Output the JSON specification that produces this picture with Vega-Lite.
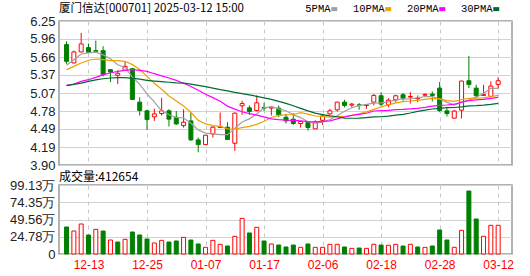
{
  "$schema": "https://vega.github.io/schema/vega-lite/v6.json",
  "padding": {"left": 8, "top": 2, "right": 10, "bottom": 2},
  "autosize": {"type": "pad"},
  "bounds": "flush",
  "spacing": 20,
  "background": "white",
  "config": {
    "font": "Liberation Sans",
    "view": {"stroke": "#999999", "strokeWidth": 1.5},
    "axis": {"labelFont": "Liberation Sans", "labelFontSize": 13, "labelColor": "#222222", "gridColor": "#d2d2d2", "gridWidth": 1, "domain": false, "ticks": false, "labelPadding": 4, "labelOverlap": false},
    "legend": {"labelFont": "Liberation Mono", "labelFontSize": 10.5, "labelColor": "#000000"}
  },
  "datasets": {
    "k": [
      {"i":1,"d":"12-10","o":5.865,"h":5.92,"l":5.55,"c":5.592,"pre":5.75,"v":388000,"m5":5.527,"m10":5.456,"m20":5.199,"m30":5.194},
      {"i":2,"d":"12-11","o":5.565,"h":5.767,"l":5.56,"c":5.745,"pre":5.592,"v":330000,"m5":5.619,"m10":5.51,"m20":5.221,"m30":5.215},
      {"i":3,"d":"12-12","o":5.745,"h":6.056,"l":5.74,"c":5.876,"pre":5.745,"v":431000,"m5":5.712,"m10":5.565,"m20":5.265,"m30":5.237},
      {"i":4,"d":"12-13","o":5.816,"h":5.882,"l":5.729,"c":5.74,"pre":5.876,"v":273000,"m5":5.729,"m10":5.609,"m20":5.292,"m30":5.265},
      {"i":5,"d":"12-16","o":5.767,"h":5.93,"l":5.75,"c":5.756,"pre":5.74,"v":354000,"m5":5.742,"m10":5.63,"m20":5.33,"m30":5.29},
      {"i":6,"d":"12-17","o":5.767,"h":5.838,"l":5.347,"c":5.374,"pre":5.756,"v":330000,"m5":5.698,"m10":5.619,"m20":5.374,"m30":5.308},
      {"i":7,"d":"12-18","o":5.456,"h":5.456,"l":5.254,"c":5.417,"pre":5.374,"v":201000,"m5":5.633,"m10":5.603,"m20":5.401,"m30":5.32},
      {"i":8,"d":"12-19","o":5.363,"h":5.445,"l":5.221,"c":5.396,"pre":5.417,"v":172000,"m5":5.537,"m10":5.603,"m20":5.428,"m30":5.325},
      {"i":9,"d":"12-20","o":5.445,"h":5.587,"l":5.445,"c":5.51,"pre":5.396,"v":211000,"m5":5.491,"m10":5.592,"m20":5.445,"m30":5.325},
      {"i":10,"d":"12-23","o":5.472,"h":5.483,"l":4.97,"c":4.97,"pre":5.51,"v":316000,"m5":5.333,"m10":5.538,"m20":5.456,"m30":5.315},
      {"i":11,"d":"12-24","o":4.926,"h":5.003,"l":4.708,"c":4.79,"pre":4.97,"v":273000,"m5":5.217,"m10":5.457,"m20":5.445,"m30":5.3},
      {"i":12,"d":"12-25","o":4.784,"h":4.8,"l":4.473,"c":4.642,"pre":4.79,"v":216000,"m5":5.062,"m10":5.347,"m20":5.428,"m30":5.28},
      {"i":13,"d":"12-26","o":4.686,"h":4.817,"l":4.62,"c":4.735,"pre":4.642,"v":158000,"m5":4.929,"m10":5.233,"m20":5.39,"m30":5.27},
      {"i":14,"d":"12-27","o":4.74,"h":4.997,"l":4.708,"c":4.784,"pre":4.735,"v":196000,"m5":4.784,"m10":5.137,"m20":5.355,"m30":5.26},
      {"i":15,"d":"12-30","o":4.784,"h":4.81,"l":4.528,"c":4.648,"pre":4.784,"v":172000,"m5":4.72,"m10":5.027,"m20":5.32,"m30":5.25},
      {"i":16,"d":"12-31","o":4.68,"h":4.78,"l":4.555,"c":4.57,"pre":4.648,"v":187000,"m5":4.676,"m10":4.946,"m20":5.28,"m30":5.24},
      {"i":17,"d":"01-02","o":4.544,"h":4.81,"l":4.51,"c":4.599,"pre":4.57,"v":239000,"m5":4.667,"m10":4.864,"m20":5.235,"m30":5.235},
      {"i":18,"d":"01-03","o":4.62,"h":4.757,"l":4.293,"c":4.31,"pre":4.599,"v":201000,"m5":4.582,"m10":4.756,"m20":5.18,"m30":5.22},
      {"i":19,"d":"01-06","o":4.31,"h":4.347,"l":4.107,"c":4.233,"pre":4.31,"v":144000,"m5":4.472,"m10":4.628,"m20":5.12,"m30":5.2},
      {"i":20,"d":"01-07","o":4.233,"h":4.386,"l":4.233,"c":4.386,"pre":4.233,"v":96000,"m5":4.42,"m10":4.57,"m20":5.054,"m30":5.18},
      {"i":21,"d":"01-08","o":4.407,"h":4.538,"l":4.347,"c":4.517,"pre":4.386,"v":196000,"m5":4.409,"m10":4.542,"m20":5.0,"m30":5.155},
      {"i":22,"d":"01-09","o":4.511,"h":4.757,"l":4.511,"c":4.528,"pre":4.517,"v":139000,"m5":4.395,"m10":4.531,"m20":4.939,"m30":5.13},
      {"i":23,"d":"01-10","o":4.517,"h":4.599,"l":4.315,"c":4.315,"pre":4.528,"v":115000,"m5":4.396,"m10":4.489,"m20":4.861,"m30":5.11},
      {"i":24,"d":"01-13","o":4.255,"h":4.757,"l":4.13,"c":4.746,"pre":4.315,"v":254000,"m5":4.498,"m10":4.485,"m20":4.811,"m30":5.085},
      {"i":25,"d":"01-14","o":4.866,"h":4.948,"l":4.719,"c":4.904,"pre":4.746,"v":512000,"m5":4.602,"m10":4.511,"m20":4.769,"m30":5.065},
      {"i":26,"d":"01-15","o":4.833,"h":4.872,"l":4.719,"c":4.773,"pre":4.904,"v":302000,"m5":4.653,"m10":4.531,"m20":4.739,"m30":5.045},
      {"i":27,"d":"01-16","o":4.79,"h":5.035,"l":4.773,"c":4.915,"pre":4.773,"v":383000,"m5":4.731,"m10":4.563,"m20":4.714,"m30":5.02},
      {"i":28,"d":"01-17","o":4.839,"h":4.915,"l":4.784,"c":4.828,"pre":4.915,"v":187000,"m5":4.833,"m10":4.615,"m20":4.685,"m30":4.995},
      {"i":29,"d":"01-20","o":4.828,"h":4.844,"l":4.708,"c":4.844,"pre":4.828,"v":144000,"m5":4.853,"m10":4.676,"m20":4.652,"m30":4.97},
      {"i":30,"d":"01-21","o":4.828,"h":4.872,"l":4.68,"c":4.719,"pre":4.844,"v":129000,"m5":4.816,"m10":4.709,"m20":4.639,"m30":4.939},
      {"i":31,"d":"01-22","o":4.68,"h":4.735,"l":4.577,"c":4.62,"pre":4.719,"v":101000,"m5":4.785,"m10":4.719,"m20":4.631,"m30":4.906},
      {"i":32,"d":"01-23","o":4.648,"h":4.746,"l":4.555,"c":4.577,"pre":4.62,"v":129000,"m5":4.718,"m10":4.724,"m20":4.628,"m30":4.867},
      {"i":33,"d":"01-24","o":4.577,"h":4.62,"l":4.511,"c":4.61,"pre":4.577,"v":96000,"m5":4.674,"m10":4.754,"m20":4.621,"m30":4.825},
      {"i":34,"d":"01-27","o":4.593,"h":4.61,"l":4.462,"c":4.511,"pre":4.61,"v":144000,"m5":4.607,"m10":4.73,"m20":4.608,"m30":4.784},
      {"i":35,"d":"02-05","o":4.49,"h":4.63,"l":4.49,"c":4.604,"pre":4.511,"v":96000,"m5":4.584,"m10":4.7,"m20":4.605,"m30":4.746},
      {"i":36,"d":"02-06","o":4.63,"h":4.73,"l":4.555,"c":4.7,"pre":4.604,"v":96000,"m5":4.6,"m10":4.693,"m20":4.612,"m30":4.723},
      {"i":37,"d":"02-07","o":4.735,"h":4.817,"l":4.719,"c":4.784,"pre":4.7,"v":139000,"m5":4.642,"m10":4.68,"m20":4.621,"m30":4.702},
      {"i":38,"d":"02-10","o":4.8,"h":4.926,"l":4.773,"c":4.926,"pre":4.784,"v":139000,"m5":4.705,"m10":4.69,"m20":4.652,"m30":4.687},
      {"i":39,"d":"02-11","o":4.926,"h":4.964,"l":4.839,"c":4.872,"pre":4.926,"v":101000,"m5":4.777,"m10":4.692,"m20":4.684,"m30":4.665},
      {"i":40,"d":"02-12","o":4.877,"h":4.915,"l":4.839,"c":4.893,"pre":4.872,"v":81000,"m5":4.835,"m10":4.71,"m20":4.709,"m30":4.663},
      {"i":41,"d":"02-13","o":4.882,"h":4.91,"l":4.8,"c":4.874,"pre":4.893,"v":86000,"m5":4.87,"m10":4.735,"m20":4.727,"m30":4.666},
      {"i":42,"d":"02-14","o":4.871,"h":4.893,"l":4.817,"c":4.882,"pre":4.874,"v":81000,"m5":4.889,"m10":4.766,"m20":4.745,"m30":4.674},
      {"i":43,"d":"02-17","o":4.926,"h":5.057,"l":4.872,"c":5.035,"pre":4.882,"v":139000,"m5":4.911,"m10":4.808,"m20":4.781,"m30":4.684},
      {"i":44,"d":"02-18","o":5.03,"h":5.09,"l":4.855,"c":4.893,"pre":5.035,"v":129000,"m5":4.915,"m10":4.846,"m20":4.788,"m30":4.687},
      {"i":45,"d":"02-19","o":4.882,"h":4.99,"l":4.844,"c":4.959,"pre":4.893,"v":125000,"m5":4.929,"m10":4.882,"m20":4.791,"m30":4.698},
      {"i":46,"d":"02-20","o":4.964,"h":5.046,"l":4.926,"c":5.03,"pre":4.959,"v":139000,"m5":4.96,"m10":4.915,"m20":4.804,"m30":4.713},
      {"i":47,"d":"02-21","o":5.046,"h":5.074,"l":4.948,"c":4.986,"pre":5.03,"v":115000,"m5":4.981,"m10":4.935,"m20":4.807,"m30":4.726},
      {"i":48,"d":"02-24","o":5.008,"h":5.09,"l":4.904,"c":5.019,"pre":4.986,"v":139000,"m5":4.977,"m10":4.944,"m20":4.817,"m30":4.749},
      {"i":49,"d":"02-25","o":4.981,"h":5.035,"l":4.926,"c":4.992,"pre":5.019,"v":101000,"m5":4.997,"m10":4.956,"m20":4.824,"m30":4.775},
      {"i":50,"d":"02-26","o":5.04,"h":5.068,"l":5.013,"c":5.052,"pre":4.992,"v":96000,"m5":5.016,"m10":4.972,"m20":4.841,"m30":4.797},
      {"i":51,"d":"02-27","o":5.057,"h":5.101,"l":4.937,"c":5.035,"pre":5.052,"v":115000,"m5":5.017,"m10":4.988,"m20":4.862,"m30":4.814},
      {"i":52,"d":"02-28","o":5.155,"h":5.254,"l":4.762,"c":4.79,"pre":5.035,"v":345000,"m5":4.978,"m10":4.979,"m20":4.872,"m30":4.823},
      {"i":53,"d":"03-03","o":4.784,"h":4.85,"l":4.691,"c":4.74,"pre":4.79,"v":201000,"m5":4.922,"m10":4.95,"m20":4.879,"m30":4.837},
      {"i":54,"d":"03-04","o":4.664,"h":4.8,"l":4.664,"c":4.779,"pre":4.74,"v":96000,"m5":4.879,"m10":4.938,"m20":4.892,"m30":4.838},
      {"i":55,"d":"03-05","o":4.795,"h":5.275,"l":4.659,"c":5.27,"pre":4.779,"v":340000,"m5":4.923,"m10":4.969,"m20":4.926,"m30":4.85},
      {"i":56,"d":"03-06","o":5.275,"h":5.68,"l":5.155,"c":5.215,"pre":5.27,"v":905000,"m5":4.959,"m10":4.988,"m20":4.951,"m30":4.865},
      {"i":57,"d":"03-07","o":5.155,"h":5.21,"l":5.003,"c":5.03,"pre":5.215,"v":503000,"m5":5.007,"m10":4.992,"m20":4.964,"m30":4.869},
      {"i":58,"d":"03-10","o":5.035,"h":5.21,"l":5.03,"c":5.052,"pre":5.03,"v":254000,"m5":5.069,"m10":4.996,"m20":4.97,"m30":4.876},
      {"i":59,"d":"03-11","o":5.019,"h":5.265,"l":5.003,"c":5.188,"pre":5.052,"v":412000,"m5":5.151,"m10":5.015,"m20":4.986,"m30":4.888},
      {"i":60,"d":"03-12","o":5.215,"h":5.33,"l":5.155,"c":5.275,"pre":5.188,"v":412654,"m5":5.152,"m10":5.037,"m20":5.005,"m30":4.906}
    ]
  },
  "vconcat": [
    {
      "width": 453,
      "height": 144,
      "title": {"text": "厦门信达[000701] 2025-03-12 15:00", "anchor": "start", "frame": "group", "font": "Noto Sans CJK SC", "fontSize": 11.5, "fontWeight": "normal", "color": "#000000", "offset": 0.5},
      "data": {"name": "k"},
      "encoding": {
        "x": {"field": "i", "type": "quantitative", "title": null,
          "scale": {"domain": [0.652, 61.21], "nice": false, "zero": false},
          "axis": {"values": [4, 12, 20, 28, 36, 44, 52, 60], "tickCount": 20, "labels": false, "grid": true, "gridDash": [4, 4], "gridColor": "#c8c8c8"}}
      },
      "layer": [
        {
          "data": {"values": [{}]},
          "mark": {"type": "text", "text": "东方财富", "font": "Noto Sans CJK SC", "fontSize": 36, "color": "#e8e8e8"},
          "encoding": {
            "x": {"datum": 33.1, "type": "quantitative"},
            "y": {"datum": 5.03, "type": "quantitative", "title": null,
              "axis": {"values": [3.9, 4.19, 4.49, 4.78, 5.07, 5.37, 5.66, 5.96, 6.25], "tickCount": 20, "format": ".2f", "grid": true, "labelOverlap": false}}
          }
        },
        {
          "mark": {"type": "rule", "strokeWidth": 1},
          "encoding": {
            "y": {"field": "l", "type": "quantitative", "title": null,
              "scale": {"domain": [3.9, 6.25], "nice": false, "zero": false},
              "axis": {"values": [3.9, 4.19, 4.49, 4.78, 5.07, 5.37, 5.66, 5.96, 6.25], "tickCount": 20, "format": ".2f", "grid": true, "labelOverlap": false}},
            "y2": {"field": "h"},
            "stroke": {"condition": {"test": "datum.c >= datum.o", "value": "#ff0000"}, "value": "#008000"}
          }
        },
        {
          "mark": {"type": "bar", "width": 4, "strokeWidth": 1},
          "encoding": {
            "y": {"field": "o", "type": "quantitative", "title": null},
            "y2": {"field": "c"},
            "fill": {"condition": {"test": "datum.c >= datum.o", "value": "#ffffff"}, "value": "#008000"},
            "stroke": {"condition": {"test": "datum.c >= datum.o", "value": "#ff0000"}, "value": "#008000"}
          }
        },
        {
          "mark": {"type": "line", "strokeWidth": 1.2},
          "encoding": {
            "y": {"field": "m5", "type": "quantitative", "title": null},
            "color": {"datum": "5PMA", "type": "nominal",
              "scale": {"domain": ["5PMA", "10PMA", "20PMA", "30PMA"], "range": ["#a0a0a0", "#f0a000", "#ff00ff", "#006a30"]},
              "legend": {"orient": "none", "legendX": 270, "legendY": -17.5, "direction": "horizontal", "title": null, "symbolType": "stroke", "symbolSize": 36, "symbolStrokeWidth": 4, "labelAlign": "right", "labelOffset": -9, "symbolOffset": 0, "columnPadding": 6}}
          }
        },
        {
          "mark": {"type": "line", "strokeWidth": 1.2},
          "encoding": {
            "y": {"field": "m10", "type": "quantitative", "title": null},
            "color": {"datum": "10PMA", "type": "nominal"}
          }
        },
        {
          "mark": {"type": "line", "strokeWidth": 1.2},
          "encoding": {
            "y": {"field": "m20", "type": "quantitative", "title": null},
            "color": {"datum": "20PMA", "type": "nominal"}
          }
        },
        {
          "mark": {"type": "line", "strokeWidth": 1.2},
          "encoding": {
            "y": {"field": "m30", "type": "quantitative", "title": null},
            "color": {"datum": "30PMA", "type": "nominal"}
          }
        }
      ]
    },
    {
      "width": 453,
      "height": 69,
      "title": {"text": "成交量:412654", "anchor": "start", "frame": "group", "font": "Noto Sans CJK SC", "fontSize": 12, "fontWeight": "normal", "color": "#000000", "offset": -5},
      "data": {"name": "k"},
      "mark": {"type": "bar", "width": 4, "strokeWidth": 1},
      "encoding": {
        "x": {"field": "i", "type": "quantitative", "title": null,
          "scale": {"domain": [0.652, 61.21], "nice": false, "zero": false},
          "axis": {"values": [4, 12, 20, 28, 36, 44, 52, 60], "tickCount": 20, "grid": true, "gridDash": [4, 4], "gridColor": "#c8c8c8", "labelColor": "#ff0000", "labelFontSize": 12, "labelPadding": 5,
            "labelExpr": "datum.value == 4 ? '12-13' : datum.value == 12 ? '12-25' : datum.value == 20 ? '01-07' : datum.value == 28 ? '01-17' : datum.value == 36 ? '02-06' : datum.value == 44 ? '02-18' : datum.value == 52 ? '02-28' : '03-12'"}},
        "y": {"field": "v", "type": "quantitative", "title": null,
          "scale": {"domain": [0, 991300], "nice": false, "zero": true},
          "axis": {"values": [0, 247800, 495600, 743500, 991300], "tickCount": 20, "grid": true, "labelOverlap": false,
            "labelExpr": "datum.value == 0 ? '0' : format(datum.value / 10000, '.2f') + '万'"}},
        "fill": {"condition": {"test": "datum.c >= datum.pre", "value": "#ffffff"}, "value": "#008000"},
        "stroke": {"condition": {"test": "datum.c >= datum.pre", "value": "#ff0000"}, "value": "#008000"}
      }
    }
  ]
}
